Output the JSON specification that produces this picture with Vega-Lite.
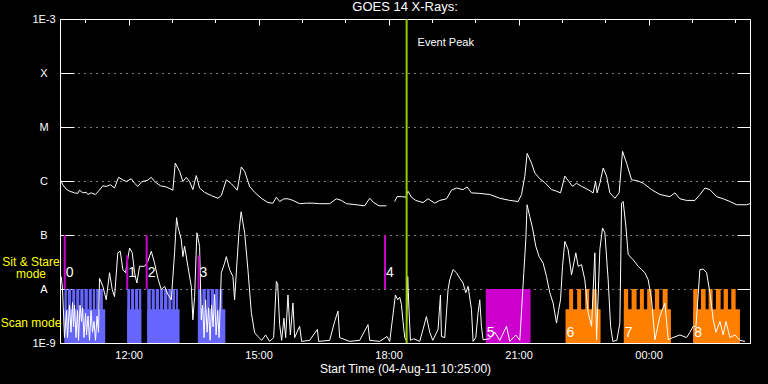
{
 "$schema": "https://vega.github.io/schema/vega-lite/v6.json",
 "width": 690,
 "height": 324,
 "autosize": {"type": "none"},
 "padding": {"left": 60, "top": 19, "right": 18, "bottom": 41},
 "background": "black",
 "title": {"text": "GOES 14 X-Rays:", "color": "white", "font": "Liberation Sans", "fontSize": 13, "fontWeight": "normal", "offset": 4, "dy": 5},
 "config": {
  "view": {"stroke": "white", "strokeWidth": 1},
  "axis": {"labelFont": "Liberation Sans", "titleFont": "Liberation Sans", "labelColor": "white", "titleColor": "white", "domainColor": "white", "tickColor": "white", "titleFontWeight": "normal"}
 },
 "datasets": {
  "long": [
   {"time": "2011-08-04T10:25:42Z", "flux": 1.05e-6, "seg": 1},
   {"time": "2011-08-04T10:28:53Z", "flux": 8.51e-7, "seg": 1},
   {"time": "2011-08-04T10:33:36Z", "flux": 7.08e-7, "seg": 1},
   {"time": "2011-08-04T10:38:12Z", "flux": 6.46e-7, "seg": 1},
   {"time": "2011-08-04T10:45:06Z", "flux": 6.03e-7, "seg": 1},
   {"time": "2011-08-04T10:49:42Z", "flux": 5.89e-7, "seg": 1},
   {"time": "2011-08-04T10:52:00Z", "flux": 6.76e-7, "seg": 1},
   {"time": "2011-08-04T10:56:36Z", "flux": 6.03e-7, "seg": 1},
   {"time": "2011-08-04T11:01:18Z", "flux": 6.17e-7, "seg": 1},
   {"time": "2011-08-04T11:03:30Z", "flux": 5.62e-7, "seg": 1},
   {"time": "2011-08-04T11:08:12Z", "flux": 6.03e-7, "seg": 1},
   {"time": "2011-08-04T11:13:48Z", "flux": 5.62e-7, "seg": 1},
   {"time": "2011-08-04T11:18:18Z", "flux": 6.46e-7, "seg": 1},
   {"time": "2011-08-04T11:24:18Z", "flux": 8.13e-7, "seg": 1},
   {"time": "2011-08-04T11:29:00Z", "flux": 7.94e-7, "seg": 1},
   {"time": "2011-08-04T11:35:00Z", "flux": 8.51e-7, "seg": 1},
   {"time": "2011-08-04T11:40:30Z", "flux": 7.41e-7, "seg": 1},
   {"time": "2011-08-04T11:46:06Z", "flux": 1.17e-6, "seg": 1},
   {"time": "2011-08-04T11:52:00Z", "flux": 1.05e-6, "seg": 1},
   {"time": "2011-08-04T11:56:42Z", "flux": 9.77e-7, "seg": 1},
   {"time": "2011-08-04T12:03:42Z", "flux": 1.10e-6, "seg": 1},
   {"time": "2011-08-04T12:08:12Z", "flux": 9.12e-7, "seg": 1},
   {"time": "2011-08-04T12:12:48Z", "flux": 7.94e-7, "seg": 1},
   {"time": "2011-08-04T12:18:24Z", "flux": 9.77e-7, "seg": 1},
   {"time": "2011-08-04T12:25:48Z", "flux": 1.02e-6, "seg": 1},
   {"time": "2011-08-04T12:31:24Z", "flux": 1.17e-6, "seg": 1},
   {"time": "2011-08-04T12:36:00Z", "flux": 9.77e-7, "seg": 1},
   {"time": "2011-08-04T12:44:18Z", "flux": 8.13e-7, "seg": 1},
   {"time": "2011-08-04T12:52:12Z", "flux": 7.76e-7, "seg": 1},
   {"time": "2011-08-04T13:01:18Z", "flux": 6.76e-7, "seg": 1},
   {"time": "2011-08-04T13:04:36Z", "flux": 2.14e-6, "seg": 1},
   {"time": "2011-08-04T13:10:36Z", "flux": 1.51e-6, "seg": 1},
   {"time": "2011-08-04T13:15:12Z", "flux": 9.77e-7, "seg": 1},
   {"time": "2011-08-04T13:19:54Z", "flux": 1.17e-6, "seg": 1},
   {"time": "2011-08-04T13:24:24Z", "flux": 9.77e-7, "seg": 1},
   {"time": "2011-08-04T13:29:00Z", "flux": 6.92e-7, "seg": 1},
   {"time": "2011-08-04T13:33:42Z", "flux": 1.26e-6, "seg": 1},
   {"time": "2011-08-04T13:38:18Z", "flux": 7.41e-7, "seg": 1},
   {"time": "2011-08-04T13:45:12Z", "flux": 6.17e-7, "seg": 1},
   {"time": "2011-08-04T13:54:30Z", "flux": 5.37e-7, "seg": 1},
   {"time": "2011-08-04T14:03:42Z", "flux": 4.79e-7, "seg": 1},
   {"time": "2011-08-04T14:08:24Z", "flux": 5.37e-7, "seg": 1},
   {"time": "2011-08-04T14:15:18Z", "flux": 1.05e-6, "seg": 1},
   {"time": "2011-08-04T14:22:12Z", "flux": 8.91e-7, "seg": 1},
   {"time": "2011-08-04T14:30:30Z", "flux": 6.76e-7, "seg": 1},
   {"time": "2011-08-04T14:36:06Z", "flux": 1.82e-6, "seg": 1},
   {"time": "2011-08-04T14:40:42Z", "flux": 1.51e-6, "seg": 1},
   {"time": "2011-08-04T14:47:36Z", "flux": 7.94e-7, "seg": 1},
   {"time": "2011-08-04T14:54:30Z", "flux": 6.17e-7, "seg": 1},
   {"time": "2011-08-04T15:03:48Z", "flux": 4.79e-7, "seg": 1},
   {"time": "2011-08-04T15:13:00Z", "flux": 3.98e-7, "seg": 1},
   {"time": "2011-08-04T15:19:54Z", "flux": 3.89e-7, "seg": 1},
   {"time": "2011-08-04T15:24:36Z", "flux": 5.01e-7, "seg": 1},
   {"time": "2011-08-04T15:29:12Z", "flux": 4.17e-7, "seg": 1},
   {"time": "2011-08-04T15:35:06Z", "flux": 4.68e-7, "seg": 1},
   {"time": "2011-08-04T15:40:42Z", "flux": 4.68e-7, "seg": 1},
   {"time": "2011-08-04T15:47:36Z", "flux": 4.37e-7, "seg": 1},
   {"time": "2011-08-04T15:56:54Z", "flux": 3.80e-7, "seg": 1},
   {"time": "2011-08-04T16:06:12Z", "flux": 3.89e-7, "seg": 1},
   {"time": "2011-08-04T16:15:18Z", "flux": 3.89e-7, "seg": 1},
   {"time": "2011-08-04T16:24:36Z", "flux": 3.80e-7, "seg": 1},
   {"time": "2011-08-04T16:38:30Z", "flux": 3.80e-7, "seg": 1},
   {"time": "2011-08-04T16:47:42Z", "flux": 4.68e-7, "seg": 1},
   {"time": "2011-08-04T16:54:42Z", "flux": 4.37e-7, "seg": 1},
   {"time": "2011-08-04T17:01:36Z", "flux": 3.80e-7, "seg": 1},
   {"time": "2011-08-04T17:15:24Z", "flux": 3.63e-7, "seg": 1},
   {"time": "2011-08-04T17:26:54Z", "flux": 3.47e-7, "seg": 1},
   {"time": "2011-08-04T17:33:54Z", "flux": 4.79e-7, "seg": 1},
   {"time": "2011-08-04T17:39:24Z", "flux": 3.98e-7, "seg": 1},
   {"time": "2011-08-04T17:46:48Z", "flux": 3.47e-7, "seg": 1},
   {"time": "2011-08-04T17:57:00Z", "flux": 3.47e-7, "seg": 1},
   {"time": "2011-08-04T18:08:30Z", "flux": 4.17e-7, "seg": 2},
   {"time": "2011-08-04T18:11:42Z", "flux": 5.13e-7, "seg": 2},
   {"time": "2011-08-04T18:17:48Z", "flux": 5.13e-7, "seg": 2},
   {"time": "2011-08-04T18:23:48Z", "flux": 5.01e-7, "seg": 2},
   {"time": "2011-08-04T18:26:54Z", "flux": 6.46e-7, "seg": 2},
   {"time": "2011-08-04T18:31:36Z", "flux": 5.01e-7, "seg": 2},
   {"time": "2011-08-04T18:37:36Z", "flux": 4.37e-7, "seg": 2},
   {"time": "2011-08-04T18:47:42Z", "flux": 3.98e-7, "seg": 2},
   {"time": "2011-08-04T18:54:42Z", "flux": 4.68e-7, "seg": 2},
   {"time": "2011-08-04T19:03:54Z", "flux": 3.89e-7, "seg": 2},
   {"time": "2011-08-04T19:10:54Z", "flux": 4.37e-7, "seg": 2},
   {"time": "2011-08-04T19:20:12Z", "flux": 4.68e-7, "seg": 2},
   {"time": "2011-08-04T19:27:06Z", "flux": 6.76e-7, "seg": 2},
   {"time": "2011-08-04T19:34:00Z", "flux": 7.41e-7, "seg": 2},
   {"time": "2011-08-04T19:43:12Z", "flux": 6.92e-7, "seg": 2},
   {"time": "2011-08-04T19:48:42Z", "flux": 7.76e-7, "seg": 2},
   {"time": "2011-08-04T19:54:48Z", "flux": 6.03e-7, "seg": 2},
   {"time": "2011-08-04T20:06:18Z", "flux": 5.89e-7, "seg": 2},
   {"time": "2011-08-04T20:20:12Z", "flux": 5.62e-7, "seg": 2},
   {"time": "2011-08-04T20:34:00Z", "flux": 4.79e-7, "seg": 2},
   {"time": "2011-08-04T20:47:54Z", "flux": 4.37e-7, "seg": 2},
   {"time": "2011-08-04T20:59:24Z", "flux": 4.17e-7, "seg": 2},
   {"time": "2011-08-04T21:04:06Z", "flux": 5.62e-7, "seg": 2},
   {"time": "2011-08-04T21:08:42Z", "flux": 1.23e-6, "seg": 2},
   {"time": "2011-08-04T21:11:54Z", "flux": 3.24e-6, "seg": 2},
   {"time": "2011-08-04T21:18:00Z", "flux": 2.14e-6, "seg": 2},
   {"time": "2011-08-04T21:22:30Z", "flux": 1.41e-6, "seg": 2},
   {"time": "2011-08-04T21:29:24Z", "flux": 1.10e-6, "seg": 2},
   {"time": "2011-08-04T21:36:24Z", "flux": 9.33e-7, "seg": 2},
   {"time": "2011-08-04T21:45:42Z", "flux": 6.92e-7, "seg": 2},
   {"time": "2011-08-04T21:52:36Z", "flux": 6.46e-7, "seg": 2},
   {"time": "2011-08-04T21:58:06Z", "flux": 6.03e-7, "seg": 2},
   {"time": "2011-08-04T22:04:06Z", "flux": 1.23e-6, "seg": 2},
   {"time": "2011-08-04T22:08:42Z", "flux": 1.02e-6, "seg": 2},
   {"time": "2011-08-04T22:14:48Z", "flux": 7.94e-7, "seg": 2},
   {"time": "2011-08-04T22:20:18Z", "flux": 9.12e-7, "seg": 2},
   {"time": "2011-08-04T22:27:12Z", "flux": 7.94e-7, "seg": 2},
   {"time": "2011-08-04T22:36:24Z", "flux": 6.92e-7, "seg": 2},
   {"time": "2011-08-04T22:43:18Z", "flux": 6.03e-7, "seg": 2},
   {"time": "2011-08-04T22:46:36Z", "flux": 9.77e-7, "seg": 2},
   {"time": "2011-08-04T22:48:48Z", "flux": 6.03e-7, "seg": 2},
   {"time": "2011-08-04T22:52:36Z", "flux": 9.12e-7, "seg": 2},
   {"time": "2011-08-04T22:57:12Z", "flux": 1.74e-6, "seg": 2},
   {"time": "2011-08-04T23:01:54Z", "flux": 1.23e-6, "seg": 2},
   {"time": "2011-08-04T23:06:24Z", "flux": 6.03e-7, "seg": 2},
   {"time": "2011-08-04T23:13:24Z", "flux": 4.79e-7, "seg": 2},
   {"time": "2011-08-04T23:19:18Z", "flux": 6.03e-7, "seg": 2},
   {"time": "2011-08-04T23:24:00Z", "flux": 3.55e-6, "seg": 2},
   {"time": "2011-08-04T23:29:36Z", "flux": 2.14e-6, "seg": 2},
   {"time": "2011-08-04T23:36:30Z", "flux": 1.05e-6, "seg": 2},
   {"time": "2011-08-04T23:43:24Z", "flux": 1.02e-6, "seg": 2},
   {"time": "2011-08-04T23:52:36Z", "flux": 9.12e-7, "seg": 2},
   {"time": "2011-08-05T00:04:12Z", "flux": 6.92e-7, "seg": 2},
   {"time": "2011-08-05T00:15:42Z", "flux": 5.62e-7, "seg": 2},
   {"time": "2011-08-05T00:29:36Z", "flux": 5.13e-7, "seg": 2},
   {"time": "2011-08-05T00:36:30Z", "flux": 6.03e-7, "seg": 2},
   {"time": "2011-08-05T00:43:24Z", "flux": 4.68e-7, "seg": 2},
   {"time": "2011-08-05T00:52:42Z", "flux": 4.37e-7, "seg": 2},
   {"time": "2011-08-05T01:04:12Z", "flux": 4.37e-7, "seg": 2},
   {"time": "2011-08-05T01:11:12Z", "flux": 5.62e-7, "seg": 2},
   {"time": "2011-08-05T01:18:06Z", "flux": 7.41e-7, "seg": 2},
   {"time": "2011-08-05T01:25:00Z", "flux": 6.92e-7, "seg": 2},
   {"time": "2011-08-05T01:34:18Z", "flux": 5.13e-7, "seg": 2},
   {"time": "2011-08-05T01:43:24Z", "flux": 4.68e-7, "seg": 2},
   {"time": "2011-08-05T01:52:42Z", "flux": 4.17e-7, "seg": 2},
   {"time": "2011-08-05T02:02:00Z", "flux": 3.63e-7, "seg": 2},
   {"time": "2011-08-05T02:15:54Z", "flux": 3.63e-7, "seg": 2},
   {"time": "2011-08-05T02:20:24Z", "flux": 3.80e-7, "seg": 2}
  ],
  "short": [
   {"time": "2011-08-04T10:26:40Z", "flux": 1.70e-8},
   {"time": "2011-08-04T10:28:28Z", "flux": 1.0e-8},
   {"time": "2011-08-04T10:31:14Z", "flux": 1.26e-9},
   {"time": "2011-08-04T10:34:01Z", "flux": 3.98e-9},
   {"time": "2011-08-04T10:35:23Z", "flux": 1.26e-9},
   {"time": "2011-08-04T10:38:10Z", "flux": 5.01e-9},
   {"time": "2011-08-04T10:40:14Z", "flux": 1.58e-9},
   {"time": "2011-08-04T10:42:19Z", "flux": 5.62e-9},
   {"time": "2011-08-04T10:43:43Z", "flux": 2.0e-9},
   {"time": "2011-08-04T10:45:05Z", "flux": 5.01e-9},
   {"time": "2011-08-04T10:47:10Z", "flux": 1.26e-9},
   {"time": "2011-08-04T10:49:15Z", "flux": 3.98e-9},
   {"time": "2011-08-04T10:50:38Z", "flux": 1.12e-9},
   {"time": "2011-08-04T10:52:43Z", "flux": 5.01e-9},
   {"time": "2011-08-04T10:54:47Z", "flux": 2.51e-9},
   {"time": "2011-08-04T10:56:11Z", "flux": 4.47e-9},
   {"time": "2011-08-04T10:58:16Z", "flux": 1.26e-9},
   {"time": "2011-08-04T11:00:20Z", "flux": 3.55e-9},
   {"time": "2011-08-04T11:01:43Z", "flux": 1.41e-9},
   {"time": "2011-08-04T11:03:48Z", "flux": 3.16e-9},
   {"time": "2011-08-04T11:05:53Z", "flux": 1.12e-9},
   {"time": "2011-08-04T11:07:58Z", "flux": 3.98e-9},
   {"time": "2011-08-04T11:10:02Z", "flux": 1.58e-9},
   {"time": "2011-08-04T11:12:07Z", "flux": 2.51e-9},
   {"time": "2011-08-04T11:14:11Z", "flux": 1.12e-9},
   {"time": "2011-08-04T11:16:16Z", "flux": 3.16e-9},
   {"time": "2011-08-04T11:18:21Z", "flux": 1.58e-9},
   {"time": "2011-08-04T11:19:44Z", "flux": 1.58e-8},
   {"time": "2011-08-04T11:24:19Z", "flux": 1.12e-8},
   {"time": "2011-08-04T11:29:01Z", "flux": 6.31e-9},
   {"time": "2011-08-04T11:33:35Z", "flux": 2.0e-8},
   {"time": "2011-08-04T11:37:20Z", "flux": 9.77e-9},
   {"time": "2011-08-04T11:40:31Z", "flux": 7.24e-9},
   {"time": "2011-08-04T11:45:05Z", "flux": 4.68e-8},
   {"time": "2011-08-04T11:48:25Z", "flux": 5.01e-8},
   {"time": "2011-08-04T11:52:01Z", "flux": 2.29e-8},
   {"time": "2011-08-04T11:55:46Z", "flux": 2.0e-8},
   {"time": "2011-08-04T12:01:19Z", "flux": 5.75e-8},
   {"time": "2011-08-04T12:05:03Z", "flux": 4.68e-8},
   {"time": "2011-08-04T12:08:14Z", "flux": 2.0e-8},
   {"time": "2011-08-04T12:11:25Z", "flux": 1.29e-8},
   {"time": "2011-08-04T12:15:10Z", "flux": 2.63e-8},
   {"time": "2011-08-04T12:22:05Z", "flux": 2.63e-8},
   {"time": "2011-08-04T12:26:40Z", "flux": 3.24e-8},
   {"time": "2011-08-04T12:31:23Z", "flux": 5.01e-8},
   {"time": "2011-08-04T12:35:57Z", "flux": 3.02e-8},
   {"time": "2011-08-04T12:40:31Z", "flux": 1.58e-8},
   {"time": "2011-08-04T12:45:14Z", "flux": 9.77e-9},
   {"time": "2011-08-04T12:49:48Z", "flux": 1.12e-8},
   {"time": "2011-08-04T12:54:23Z", "flux": 7.94e-9},
   {"time": "2011-08-04T12:59:05Z", "flux": 6.31e-9},
   {"time": "2011-08-04T13:03:40Z", "flux": 4.68e-8},
   {"time": "2011-08-04T13:06:26Z", "flux": 2.09e-7},
   {"time": "2011-08-04T13:08:14Z", "flux": 1.45e-7},
   {"time": "2011-08-04T13:12:57Z", "flux": 8.13e-8},
   {"time": "2011-08-04T13:15:10Z", "flux": 3.98e-8},
   {"time": "2011-08-04T13:17:31Z", "flux": 6.17e-8},
   {"time": "2011-08-04T13:22:05Z", "flux": 2.63e-8},
   {"time": "2011-08-04T13:26:48Z", "flux": 1.12e-8},
   {"time": "2011-08-04T13:29:01Z", "flux": 2.69e-9},
   {"time": "2011-08-04T13:31:23Z", "flux": 7.24e-9},
   {"time": "2011-08-04T13:34:34Z", "flux": 1.10e-7},
   {"time": "2011-08-04T13:38:18Z", "flux": 6.17e-8},
   {"time": "2011-08-04T13:40:40Z", "flux": 2.69e-9},
   {"time": "2011-08-04T13:42:28Z", "flux": 5.01e-9},
   {"time": "2011-08-04T13:44:32Z", "flux": 1.26e-9},
   {"time": "2011-08-04T13:46:37Z", "flux": 6.31e-9},
   {"time": "2011-08-04T13:48:42Z", "flux": 1.58e-9},
   {"time": "2011-08-04T13:50:47Z", "flux": 4.47e-9},
   {"time": "2011-08-04T13:52:51Z", "flux": 1.12e-9},
   {"time": "2011-08-04T13:54:56Z", "flux": 5.01e-9},
   {"time": "2011-08-04T13:57:01Z", "flux": 2.0e-9},
   {"time": "2011-08-04T13:59:05Z", "flux": 7.94e-9},
   {"time": "2011-08-04T14:01:10Z", "flux": 1.41e-9},
   {"time": "2011-08-04T14:03:15Z", "flux": 3.98e-9},
   {"time": "2011-08-04T14:05:20Z", "flux": 1.26e-9},
   {"time": "2011-08-04T14:08:23Z", "flux": 2.0e-8},
   {"time": "2011-08-04T14:12:57Z", "flux": 3.02e-8},
   {"time": "2011-08-04T14:15:18Z", "flux": 3.98e-8},
   {"time": "2011-08-04T14:19:53Z", "flux": 2.29e-8},
   {"time": "2011-08-04T14:24:27Z", "flux": 1.70e-8},
   {"time": "2011-08-04T14:26:49Z", "flux": 6.31e-9},
   {"time": "2011-08-04T14:29:59Z", "flux": 3.02e-8},
   {"time": "2011-08-04T14:32:46Z", "flux": 1.10e-7},
   {"time": "2011-08-04T14:35:49Z", "flux": 2.69e-7},
   {"time": "2011-08-04T14:40:40Z", "flux": 1.10e-7},
   {"time": "2011-08-04T14:45:14Z", "flux": 2.29e-8},
   {"time": "2011-08-04T14:49:57Z", "flux": 3.63e-9},
   {"time": "2011-08-04T14:54:31Z", "flux": 1.55e-9},
   {"time": "2011-08-04T14:59:05Z", "flux": 1.32e-9},
   {"time": "2011-08-04T15:04:13Z", "flux": 1.12e-9},
   {"time": "2011-08-04T15:09:46Z", "flux": 1.41e-9},
   {"time": "2011-08-04T15:15:18Z", "flux": 1.07e-9},
   {"time": "2011-08-04T15:20:51Z", "flux": 1.26e-9},
   {"time": "2011-08-04T15:24:35Z", "flux": 1.38e-8},
   {"time": "2011-08-04T15:26:23Z", "flux": 1.26e-8},
   {"time": "2011-08-04T15:29:10Z", "flux": 2.19e-9},
   {"time": "2011-08-04T15:31:56Z", "flux": 1.12e-9},
   {"time": "2011-08-04T15:35:07Z", "flux": 2.88e-9},
   {"time": "2011-08-04T15:37:29Z", "flux": 1.26e-9},
   {"time": "2011-08-04T15:40:40Z", "flux": 7.76e-9},
   {"time": "2011-08-04T15:42:20Z", "flux": 3.16e-9},
   {"time": "2011-08-04T15:43:59Z", "flux": 1.41e-9},
   {"time": "2011-08-04T15:47:35Z", "flux": 5.50e-9},
   {"time": "2011-08-04T15:49:57Z", "flux": 1.26e-9},
   {"time": "2011-08-04T15:56:53Z", "flux": 2.04e-9},
   {"time": "2011-08-04T15:59:39Z", "flux": 1.07e-9},
   {"time": "2011-08-04T16:10:44Z", "flux": 1.12e-9},
   {"time": "2011-08-04T16:21:24Z", "flux": 1.78e-9},
   {"time": "2011-08-04T16:23:12Z", "flux": 1.07e-9},
   {"time": "2011-08-04T16:38:26Z", "flux": 1.12e-9},
   {"time": "2011-08-04T16:45:22Z", "flux": 2.51e-9},
   {"time": "2011-08-04T16:49:56Z", "flux": 3.89e-9},
   {"time": "2011-08-04T16:52:18Z", "flux": 1.26e-9},
   {"time": "2011-08-04T17:06:09Z", "flux": 1.07e-9},
   {"time": "2011-08-04T17:20:01Z", "flux": 1.12e-9},
   {"time": "2011-08-04T17:31:31Z", "flux": 2.19e-9},
   {"time": "2011-08-04T17:33:52Z", "flux": 1.12e-9},
   {"time": "2011-08-04T17:47:44Z", "flux": 1.07e-9},
   {"time": "2011-08-04T17:57:50Z", "flux": 1.32e-9},
   {"time": "2011-08-04T18:01:35Z", "flux": 1.07e-9},
   {"time": "2011-08-04T18:09:29Z", "flux": 7.76e-9},
   {"time": "2011-08-04T18:12:41Z", "flux": 6.31e-9},
   {"time": "2011-08-04T18:15:27Z", "flux": 7.08e-9},
   {"time": "2011-08-04T18:17:48Z", "flux": 5.13e-9},
   {"time": "2011-08-04T18:20:01Z", "flux": 2.51e-9},
   {"time": "2011-08-04T18:22:23Z", "flux": 1.26e-9},
   {"time": "2011-08-04T18:24:27Z", "flux": 1.12e-9},
   {"time": "2011-08-04T18:26:32Z", "flux": 1.70e-8},
   {"time": "2011-08-04T18:28:20Z", "flux": 3.98e-9},
   {"time": "2011-08-04T18:30:16Z", "flux": 1.12e-9},
   {"time": "2011-08-04T18:34:51Z", "flux": 1.20e-9},
   {"time": "2011-08-04T18:43:10Z", "flux": 1.07e-9},
   {"time": "2011-08-04T18:47:44Z", "flux": 1.78e-9},
   {"time": "2011-08-04T18:52:26Z", "flux": 3.09e-9},
   {"time": "2011-08-04T18:57:01Z", "flux": 1.58e-9},
   {"time": "2011-08-04T19:01:10Z", "flux": 1.12e-9},
   {"time": "2011-08-04T19:08:31Z", "flux": 1.78e-9},
   {"time": "2011-08-04T19:11:50Z", "flux": 7.76e-9},
   {"time": "2011-08-04T19:13:14Z", "flux": 1.32e-9},
   {"time": "2011-08-04T19:17:48Z", "flux": 1.26e-9},
   {"time": "2011-08-04T19:22:22Z", "flux": 9.77e-9},
   {"time": "2011-08-04T19:24:44Z", "flux": 1.48e-8},
   {"time": "2011-08-04T19:29:18Z", "flux": 2.29e-8},
   {"time": "2011-08-04T19:34:01Z", "flux": 2.0e-8},
   {"time": "2011-08-04T19:38:35Z", "flux": 1.58e-8},
   {"time": "2011-08-04T19:43:10Z", "flux": 1.29e-8},
   {"time": "2011-08-04T19:46:54Z", "flux": 8.51e-9},
   {"time": "2011-08-04T19:50:05Z", "flux": 1.12e-8},
   {"time": "2011-08-04T19:54:48Z", "flux": 4.17e-9},
   {"time": "2011-08-04T19:57:01Z", "flux": 1.07e-9},
   {"time": "2011-08-04T20:00:46Z", "flux": 1.26e-9},
   {"time": "2011-08-04T20:03:56Z", "flux": 3.63e-9},
   {"time": "2011-08-04T20:06:18Z", "flux": 6.31e-9},
   {"time": "2011-08-04T20:08:39Z", "flux": 2.0e-9},
   {"time": "2011-08-04T20:10:52Z", "flux": 1.15e-9},
   {"time": "2011-08-04T20:20:09Z", "flux": 1.20e-9},
   {"time": "2011-08-04T20:27:05Z", "flux": 1.58e-9},
   {"time": "2011-08-04T20:34:01Z", "flux": 1.12e-9},
   {"time": "2011-08-04T20:43:18Z", "flux": 2.04e-9},
   {"time": "2011-08-04T20:47:52Z", "flux": 1.07e-9},
   {"time": "2011-08-04T20:56:11Z", "flux": 1.41e-9},
   {"time": "2011-08-04T21:01:43Z", "flux": 1.12e-9},
   {"time": "2011-08-04T21:07:16Z", "flux": 2.0e-8},
   {"time": "2011-08-04T21:10:02Z", "flux": 8.13e-8},
   {"time": "2011-08-04T21:11:50Z", "flux": 3.63e-7},
   {"time": "2011-08-04T21:15:35Z", "flux": 2.19e-7},
   {"time": "2011-08-04T21:19:19Z", "flux": 1.35e-7},
   {"time": "2011-08-04T21:23:53Z", "flux": 6.17e-8},
   {"time": "2011-08-04T21:28:28Z", "flux": 3.98e-8},
   {"time": "2011-08-04T21:34:01Z", "flux": 3.02e-8},
   {"time": "2011-08-04T21:38:43Z", "flux": 1.70e-8},
   {"time": "2011-08-04T21:43:18Z", "flux": 8.51e-9},
   {"time": "2011-08-04T21:47:52Z", "flux": 5.50e-9},
   {"time": "2011-08-04T21:52:35Z", "flux": 2.34e-9},
   {"time": "2011-08-04T21:55:21Z", "flux": 3.98e-9},
   {"time": "2011-08-04T21:58:07Z", "flux": 6.31e-9},
   {"time": "2011-08-04T22:00:53Z", "flux": 2.63e-8},
   {"time": "2011-08-04T22:04:05Z", "flux": 7.59e-8},
   {"time": "2011-08-04T22:08:39Z", "flux": 5.37e-8},
   {"time": "2011-08-04T22:13:22Z", "flux": 1.82e-8},
   {"time": "2011-08-04T22:19:19Z", "flux": 4.68e-8},
   {"time": "2011-08-04T22:22:31Z", "flux": 2.63e-8},
   {"time": "2011-08-04T22:27:13Z", "flux": 2.82e-8},
   {"time": "2011-08-04T22:31:47Z", "flux": 1.48e-8},
   {"time": "2011-08-04T22:36:22Z", "flux": 3.63e-9},
   {"time": "2011-08-04T22:41:05Z", "flux": 2.04e-9},
   {"time": "2011-08-04T22:45:39Z", "flux": 4.68e-8},
   {"time": "2011-08-04T22:48:01Z", "flux": 1.15e-9},
   {"time": "2011-08-04T22:52:35Z", "flux": 5.37e-8},
   {"time": "2011-08-04T22:56:19Z", "flux": 1.35e-7},
   {"time": "2011-08-04T22:59:31Z", "flux": 1.10e-7},
   {"time": "2011-08-04T23:04:05Z", "flux": 1.48e-8},
   {"time": "2011-08-04T23:07:25Z", "flux": 2.04e-9},
   {"time": "2011-08-04T23:10:35Z", "flux": 1.07e-9},
   {"time": "2011-08-04T23:16:08Z", "flux": 1.12e-9},
   {"time": "2011-08-04T23:20:18Z", "flux": 2.34e-9},
   {"time": "2011-08-04T23:22:39Z", "flux": 3.89e-7},
   {"time": "2011-08-04T23:24:52Z", "flux": 4.17e-7},
   {"time": "2011-08-04T23:28:37Z", "flux": 1.45e-7},
   {"time": "2011-08-04T23:31:48Z", "flux": 4.37e-8},
   {"time": "2011-08-04T23:38:44Z", "flux": 3.47e-8},
   {"time": "2011-08-04T23:45:40Z", "flux": 2.63e-8},
   {"time": "2011-08-04T23:50:22Z", "flux": 2.29e-8},
   {"time": "2011-08-04T23:54:56Z", "flux": 2.0e-8},
   {"time": "2011-08-04T23:59:31Z", "flux": 1.48e-8},
   {"time": "2011-08-05T00:04:13Z", "flux": 6.31e-9},
   {"time": "2011-08-05T00:08:48Z", "flux": 1.15e-9},
   {"time": "2011-08-05T00:15:43Z", "flux": 3.09e-9},
   {"time": "2011-08-05T00:22:39Z", "flux": 5.50e-9},
   {"time": "2011-08-05T00:27:14Z", "flux": 1.15e-9},
   {"time": "2011-08-05T00:33:44Z", "flux": 1.26e-9},
   {"time": "2011-08-05T00:43:26Z", "flux": 1.41e-9},
   {"time": "2011-08-05T00:52:43Z", "flux": 1.26e-9},
   {"time": "2011-08-05T00:57:18Z", "flux": 1.58e-9},
   {"time": "2011-08-05T01:01:52Z", "flux": 2.04e-9},
   {"time": "2011-08-05T01:05:37Z", "flux": 2.0e-9},
   {"time": "2011-08-05T01:11:09Z", "flux": 2.29e-8},
   {"time": "2011-08-05T01:15:44Z", "flux": 2.34e-8},
   {"time": "2011-08-05T01:20:26Z", "flux": 2.0e-8},
   {"time": "2011-08-05T01:25:01Z", "flux": 8.51e-9},
   {"time": "2011-08-05T01:29:35Z", "flux": 2.69e-9},
   {"time": "2011-08-05T01:33:19Z", "flux": 1.58e-9},
   {"time": "2011-08-05T01:38:52Z", "flux": 2.51e-9},
   {"time": "2011-08-05T01:43:26Z", "flux": 1.41e-9},
   {"time": "2011-08-05T01:47:11Z", "flux": 2.51e-9},
   {"time": "2011-08-05T01:52:43Z", "flux": 1.26e-9},
   {"time": "2011-08-05T01:59:39Z", "flux": 1.41e-9},
   {"time": "2011-08-05T02:06:35Z", "flux": 1.12e-9},
   {"time": "2011-08-05T02:13:31Z", "flux": 1.07e-9}
  ],
  "blocks": [
   {"t0": "2011-08-04T10:31:14Z", "t1": "2011-08-04T11:27:38Z", "lo": 1e-9, "hi": 4.2e-9, "series": "blue"},
   {"t0": "2011-08-04T10:31:14Z", "t1": "2011-08-04T10:34:25Z", "lo": 1e-9, "hi": 1e-8, "series": "blue"},
   {"t0": "2011-08-04T10:35:49Z", "t1": "2011-08-04T10:40:31Z", "lo": 1e-9, "hi": 1e-8, "series": "blue"},
   {"t0": "2011-08-04T10:41:55Z", "t1": "2011-08-04T10:46:04Z", "lo": 1e-9, "hi": 1e-8, "series": "blue"},
   {"t0": "2011-08-04T10:47:27Z", "t1": "2011-08-04T10:51:45Z", "lo": 1e-9, "hi": 1e-8, "series": "blue"},
   {"t0": "2011-08-04T10:53:08Z", "t1": "2011-08-04T10:57:34Z", "lo": 1e-9, "hi": 1e-8, "series": "blue"},
   {"t0": "2011-08-04T10:58:57Z", "t1": "2011-08-04T11:03:31Z", "lo": 1e-9, "hi": 1e-8, "series": "blue"},
   {"t0": "2011-08-04T11:04:54Z", "t1": "2011-08-04T11:09:04Z", "lo": 1e-9, "hi": 1e-8, "series": "blue"},
   {"t0": "2011-08-04T11:10:27Z", "t1": "2011-08-04T11:13:47Z", "lo": 1e-9, "hi": 1e-8, "series": "blue"},
   {"t0": "2011-08-04T11:15:10Z", "t1": "2011-08-04T11:19:03Z", "lo": 1e-9, "hi": 1e-8, "series": "blue"},
   {"t0": "2011-08-04T11:20:26Z", "t1": "2011-08-04T11:24:19Z", "lo": 1e-9, "hi": 1e-8, "series": "blue"},
   {"t0": "2011-08-04T11:58:07Z", "t1": "2011-08-04T12:17:31Z", "lo": 1e-9, "hi": 4.2e-9, "series": "blue"},
   {"t0": "2011-08-04T11:58:07Z", "t1": "2011-08-04T12:02:00Z", "lo": 1e-9, "hi": 1e-8, "series": "blue"},
   {"t0": "2011-08-04T12:03:23Z", "t1": "2011-08-04T12:07:32Z", "lo": 1e-9, "hi": 1e-8, "series": "blue"},
   {"t0": "2011-08-04T12:08:56Z", "t1": "2011-08-04T12:13:05Z", "lo": 1e-9, "hi": 1e-8, "series": "blue"},
   {"t0": "2011-08-04T12:14:28Z", "t1": "2011-08-04T12:17:31Z", "lo": 1e-9, "hi": 1e-8, "series": "blue"},
   {"t0": "2011-08-04T12:25:50Z", "t1": "2011-08-04T13:10:35Z", "lo": 1e-9, "hi": 4.2e-9, "series": "blue"},
   {"t0": "2011-08-04T12:25:50Z", "t1": "2011-08-04T12:30:41Z", "lo": 1e-9, "hi": 1e-8, "series": "blue"},
   {"t0": "2011-08-04T12:32:04Z", "t1": "2011-08-04T12:36:14Z", "lo": 1e-9, "hi": 1e-8, "series": "blue"},
   {"t0": "2011-08-04T12:37:37Z", "t1": "2011-08-04T12:42:11Z", "lo": 1e-9, "hi": 1e-8, "series": "blue"},
   {"t0": "2011-08-04T12:43:34Z", "t1": "2011-08-04T12:47:44Z", "lo": 1e-9, "hi": 1e-8, "series": "blue"},
   {"t0": "2011-08-04T12:49:07Z", "t1": "2011-08-04T12:53:41Z", "lo": 1e-9, "hi": 1e-8, "series": "blue"},
   {"t0": "2011-08-04T12:55:04Z", "t1": "2011-08-04T12:59:14Z", "lo": 1e-9, "hi": 1e-8, "series": "blue"},
   {"t0": "2011-08-04T13:00:37Z", "t1": "2011-08-04T13:04:22Z", "lo": 1e-9, "hi": 1e-8, "series": "blue"},
   {"t0": "2011-08-04T13:05:44Z", "t1": "2011-08-04T13:08:14Z", "lo": 1e-9, "hi": 1e-8, "series": "blue"},
   {"t0": "2011-08-04T13:35:57Z", "t1": "2011-08-04T14:13:55Z", "lo": 1e-9, "hi": 4.2e-9, "series": "blue"},
   {"t0": "2011-08-04T13:35:57Z", "t1": "2011-08-04T13:40:48Z", "lo": 1e-9, "hi": 1e-8, "series": "blue"},
   {"t0": "2011-08-04T13:42:11Z", "t1": "2011-08-04T13:46:54Z", "lo": 1e-9, "hi": 1e-8, "series": "blue"},
   {"t0": "2011-08-04T13:48:17Z", "t1": "2011-08-04T13:52:26Z", "lo": 1e-9, "hi": 1e-8, "series": "blue"},
   {"t0": "2011-08-04T13:53:50Z", "t1": "2011-08-04T13:58:24Z", "lo": 1e-9, "hi": 1e-8, "series": "blue"},
   {"t0": "2011-08-04T13:59:47Z", "t1": "2011-08-04T14:04:22Z", "lo": 1e-9, "hi": 1e-8, "series": "blue"},
   {"t0": "2011-08-04T14:05:44Z", "t1": "2011-08-04T14:09:54Z", "lo": 1e-9, "hi": 1e-8, "series": "blue"},
   {"t0": "2011-08-04T20:14:36Z", "t1": "2011-08-04T21:16:36Z", "lo": 1e-9, "hi": 1e-8, "series": "magenta"},
   {"t0": "2011-08-04T22:05:03Z", "t1": "2011-08-04T22:53:33Z", "lo": 1e-9, "hi": 4.2e-9, "series": "orange"},
   {"t0": "2011-08-04T22:10:02Z", "t1": "2011-08-04T22:15:35Z", "lo": 1e-9, "hi": 1e-8, "series": "orange"},
   {"t0": "2011-08-04T22:21:08Z", "t1": "2011-08-04T22:26:40Z", "lo": 1e-9, "hi": 1e-8, "series": "orange"},
   {"t0": "2011-08-04T22:32:13Z", "t1": "2011-08-04T22:37:45Z", "lo": 1e-9, "hi": 1e-8, "series": "orange"},
   {"t0": "2011-08-04T22:42:28Z", "t1": "2011-08-04T22:48:01Z", "lo": 1e-9, "hi": 1e-8, "series": "orange"},
   {"t0": "2011-08-04T23:25:50Z", "t1": "2011-08-05T00:31:00Z", "lo": 1e-9, "hi": 4.2e-9, "series": "orange"},
   {"t0": "2011-08-04T23:25:50Z", "t1": "2011-08-04T23:31:48Z", "lo": 1e-9, "hi": 1e-8, "series": "orange"},
   {"t0": "2011-08-04T23:36:31Z", "t1": "2011-08-04T23:43:26Z", "lo": 1e-9, "hi": 1e-8, "series": "orange"},
   {"t0": "2011-08-04T23:48:01Z", "t1": "2011-08-04T23:53:33Z", "lo": 1e-9, "hi": 1e-8, "series": "orange"},
   {"t0": "2011-08-04T23:58:08Z", "t1": "2011-08-05T00:04:13Z", "lo": 1e-9, "hi": 1e-8, "series": "orange"},
   {"t0": "2011-08-05T00:08:48Z", "t1": "2011-08-05T00:14:46Z", "lo": 1e-9, "hi": 1e-8, "series": "orange"},
   {"t0": "2011-08-05T00:19:28Z", "t1": "2011-08-05T00:26:24Z", "lo": 1e-9, "hi": 1e-8, "series": "orange"},
   {"t0": "2011-08-05T01:01:52Z", "t1": "2011-08-05T02:06:35Z", "lo": 1e-9, "hi": 4.2e-9, "series": "orange"},
   {"t0": "2011-08-05T01:01:52Z", "t1": "2011-08-05T01:07:58Z", "lo": 1e-9, "hi": 1e-8, "series": "orange"},
   {"t0": "2011-08-05T01:12:32Z", "t1": "2011-08-05T01:19:04Z", "lo": 1e-9, "hi": 1e-8, "series": "orange"},
   {"t0": "2011-08-05T01:23:13Z", "t1": "2011-08-05T01:28:46Z", "lo": 1e-9, "hi": 1e-8, "series": "orange"},
   {"t0": "2011-08-05T01:33:20Z", "t1": "2011-08-05T01:39:50Z", "lo": 1e-9, "hi": 1e-8, "series": "orange"},
   {"t0": "2011-08-05T01:44:00Z", "t1": "2011-08-05T01:49:58Z", "lo": 1e-9, "hi": 1e-8, "series": "orange"},
   {"t0": "2011-08-05T01:54:32Z", "t1": "2011-08-05T02:00:38Z", "lo": 1e-9, "hi": 1e-8, "series": "orange"}
  ],
  "stare": [
   {"time": "2011-08-04T10:31:30Z", "top": 1e-7, "bottom": 1e-8},
   {"time": "2011-08-04T11:58:07Z", "top": 4.2e-8, "bottom": 1e-8},
   {"time": "2011-08-04T12:25:00Z", "top": 1e-7, "bottom": 1e-8},
   {"time": "2011-08-04T13:36:54Z", "top": 4.2e-8, "bottom": 1e-8},
   {"time": "2011-08-04T17:55:06Z", "top": 1e-7, "bottom": 1e-8}
  ],
  "numbers": [
   {"time": "2011-08-04T10:31:30Z", "flux": 2e-8, "label": "0"},
   {"time": "2011-08-04T11:58:07Z", "flux": 2e-8, "label": "1"},
   {"time": "2011-08-04T12:25:00Z", "flux": 2e-8, "label": "2"},
   {"time": "2011-08-04T13:36:54Z", "flux": 2e-8, "label": "3"},
   {"time": "2011-08-04T17:55:06Z", "flux": 2e-8, "label": "4"},
   {"time": "2011-08-04T20:14:36Z", "flux": 1.55e-9, "label": "5"},
   {"time": "2011-08-04T22:05:03Z", "flux": 1.55e-9, "label": "6"},
   {"time": "2011-08-04T23:25:50Z", "flux": 1.55e-9, "label": "7"},
   {"time": "2011-08-05T01:01:52Z", "flux": 1.55e-9, "label": "8"}
  ],
  "modes": [
   {"time": "2011-08-04T10:25:00Z", "flux": 3.2e-8, "label": "Sit & Stare\nmode"},
   {"time": "2011-08-04T10:25:00Z", "flux": 2.3e-9, "label": "Scan mode"}
  ],
  "event": [
   {"time": "2011-08-04T18:25:00Z", "flux": 3.6e-4, "label": "Event Peak"}
  ]
 },
 "layer": [
  {
   "data": {"name": "blocks"},
   "mark": {"type": "rect"},
   "encoding": {
    "x": {"field": "t0", "type": "temporal", "axis": null, "scale": {"type": "utc", "domain": [1312453500000, 1312510830000]}},
    "x2": {"field": "t1"},
    "y": {"field": "lo", "type": "quantitative", "axis": null, "scale": {"type": "log", "domain": [1e-9, 1e-3], "nice": false}},
    "y2": {"field": "hi"},
    "color": {"field": "series", "type": "nominal", "legend": null, "scale": {"domain": ["blue", "magenta", "orange"], "range": ["#6666ff", "#cc00cc", "#ff8000"]}}
   }
  },
  {
   "data": {"name": "long"},
   "mark": {"type": "line", "color": "white", "strokeWidth": 1},
   "encoding": {
    "x": {"field": "time", "type": "temporal", "scale": {"type": "utc", "domain": [1312453500000, 1312510830000]},
     "axis": {"orient": "bottom", "format": "%H:%M", "values": [1312459200000, 1312470000000, 1312480800000, 1312491600000, 1312502400000], "ticks": false, "labelPadding": 6, "labelFontSize": 11, "labelFlush": false, "grid": false, "title": "Start Time (04-Aug-11 10:25:00)", "titleFontSize": 12, "titlePadding": 3}},
    "y": {"field": "flux", "type": "quantitative", "scale": {"type": "log", "domain": [1e-9, 1e-3], "nice": false},
     "axis": {"orient": "left", "title": null,
      "values": [1e-9, 1e-8, 1e-7, 1e-6, 1e-5, 1e-4, 1e-3],
      "labelExpr": "datum.value > 5e-4 ? '1E-3' : datum.value > 5e-5 ? 'X' : datum.value > 5e-6 ? 'M' : datum.value > 5e-7 ? 'C' : datum.value > 5e-8 ? 'B' : datum.value > 5e-9 ? 'A' : '1E-9'",
      "labelAlign": "center",
      "labelFontSize": 11,
      "labelPadding": 30.5,
      "tickSize": -14,
      "grid": true,
      "gridColor": "white",
      "gridDash": [1, 5]
     }},
    "detail": {"field": "seg", "type": "nominal"}
   }
  },
  {
   "data": {"name": "short"},
   "mark": {"type": "line", "color": "white", "strokeWidth": 1},
   "encoding": {
    "x": {"field": "time", "type": "temporal",
     "axis": {"orient": "top", "labels": false, "title": null, "grid": false, "values": [1312455600000, 1312459200000, 1312462800000, 1312466400000, 1312470000000, 1312473600000, 1312477200000, 1312480800000, 1312484400000, 1312488000000, 1312491600000, 1312495200000, 1312498800000, 1312502400000, 1312506000000, 1312509600000], "tickSize": -3.5}},
    "y": {"field": "flux", "type": "quantitative",
     "axis": {"orient": "right", "labels": false, "title": null, "grid": false, "values": [1e-8, 1e-7, 1e-6, 1e-5, 1e-4], "tickSize": -13}}
   }
  },
  {
   "data": {"name": "stare"},
   "mark": {"type": "rule", "color": "#cc00cc", "strokeWidth": 2},
   "encoding": {
    "x": {"field": "time", "type": "temporal",
     "axis": {"orient": "top", "labels": false, "title": null, "grid": false, "domain": false, "values": [1312459200000, 1312470000000, 1312480800000, 1312491600000, 1312502400000], "tickSize": -6}},
    "y": {"field": "top", "type": "quantitative", "axis": null},
    "y2": {"field": "bottom"}
   }
  },
  {
   "data": {"name": "event"},
   "mark": {"type": "rule", "color": "#99cc00", "strokeWidth": 2},
   "encoding": {
    "x": {"field": "time", "type": "temporal", "axis": null}
   }
  },
  {
   "data": {"name": "numbers"},
   "mark": {"type": "text", "color": "white", "align": "left", "baseline": "middle", "fontSize": 14, "dx": 1, "font": "Liberation Sans"},
   "encoding": {
    "x": {"field": "time", "type": "temporal", "axis": null},
    "y": {"field": "flux", "type": "quantitative", "axis": null},
    "text": {"field": "label"}
   }
  },
  {
   "data": {"name": "modes"},
   "mark": {"type": "text", "color": "#ffff00", "align": "center", "baseline": "middle", "fontSize": 12, "lineBreak": "\n", "lineHeight": 12, "dx": -29, "font": "Liberation Sans"},
   "encoding": {
    "x": {"field": "time", "type": "temporal", "axis": null},
    "y": {"field": "flux", "type": "quantitative", "axis": null},
    "text": {"field": "label"}
   }
  },
  {
   "data": {"name": "event"},
   "mark": {"type": "text", "color": "white", "align": "left", "baseline": "middle", "fontSize": 11, "dx": 11, "font": "Liberation Sans"},
   "encoding": {
    "x": {"field": "time", "type": "temporal", "axis": null},
    "y": {"field": "flux", "type": "quantitative", "axis": null},
    "text": {"field": "label"}
   }
  }
 ],
 "resolve": {"axis": {"x": "independent", "y": "independent"}}
}
